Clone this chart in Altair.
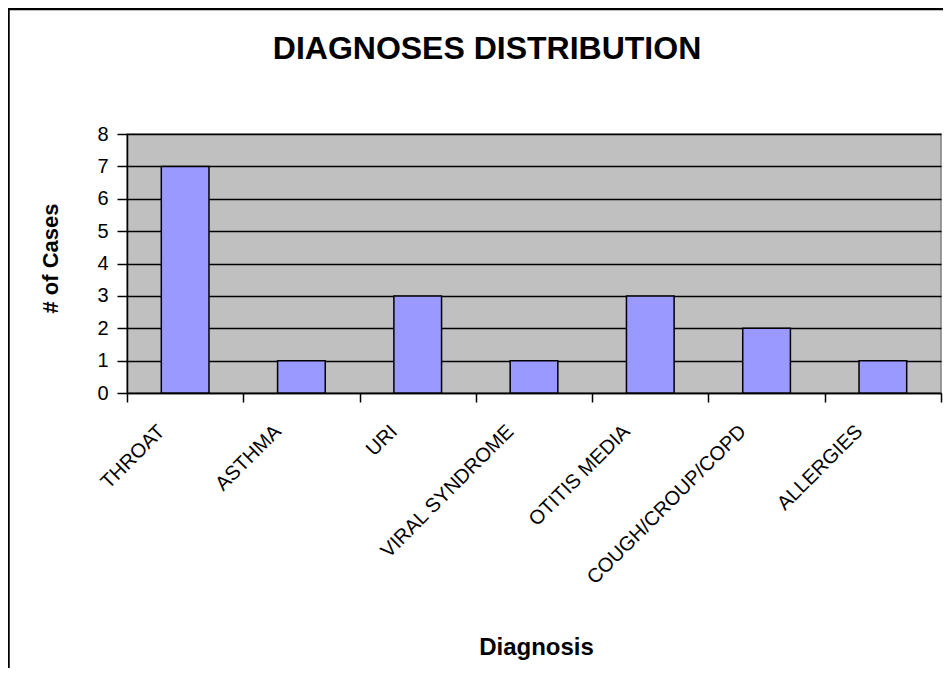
import altair as alt
import pandas as pd

categories = ["THROAT", "ASTHMA", "URI", "VIRAL SYNDROME", "OTITIS MEDIA", "COUGH/CROUP/COPD", "ALLERGIES"]
cases = [7, 1, 3, 1, 3, 2, 1]
y_ticks = [0, 1, 2, 3, 4, 5, 6, 7, 8]

df = pd.DataFrame({"Diagnosis": categories, "Cases": cases})

FONT = "Liberation Sans"
W, H = 814, 259

bars = alt.Chart(df).mark_bar(
    width=alt.RelativeBandSize(0.41), fill="#9999FF", stroke="black", strokeWidth=1.5
).encode(
    x=alt.X(
        "Diagnosis:N", sort=categories,
        scale=alt.Scale(paddingInner=0, paddingOuter=0),
        axis=alt.Axis(
            title="Diagnosis", labelAngle=-45, labelAlign="right", labelBaseline="middle",
            labelFont=FONT, labelFontSize=20, labelColor="black", labelPadding=26, labelOffset=-24,
            labelLimit=0, labelOverlap=False,
            tickBand="extent", tickSize=9, tickColor="black", tickWidth=1.5,
            domainColor="black", domainWidth=1.5, grid=False,
            titleFont=FONT, titleFontSize=24, titleFontWeight="bold", titleColor="black",
            titleX=409, titleY=261, titleBaseline="alphabetic", titleAlign="center",
        ),
    ),
    y=alt.Y(
        "Cases:Q", scale=alt.Scale(domain=[0, 8], nice=False),
        axis=alt.Axis(
            title="# of Cases", values=y_ticks, format="d",
            labelFont=FONT, labelFontSize=20, labelColor="black", labelPadding=9,
            tickSize=10, tickColor="black", tickWidth=1.5,
            domainColor="black", domainWidth=1.5,
            grid=True, gridColor="black", gridWidth=1.3,
            titleFont=FONT, titleFontSize=22, titleFontWeight="bold", titleColor="black",
            titleX=-77, titleY=124, titleBaseline="middle", titleAlign="center", titleAngle=-90,
        ),
    ),
)

frame = alt.Chart(pd.DataFrame({"f": [0]})).mark_rect(
    fill="transparent", stroke="black", strokeWidth=2.5
).encode(
    x=alt.value(-118.5), x2=alt.value(1200), y=alt.value(-125), y2=alt.value(900)
)

chart = alt.layer(bars, frame).properties(
    width=W, height=H,
    title=alt.TitleParams(
        "DIAGNOSES DISTRIBUTION", font=FONT, fontSize=32, fontWeight="bold", color="black",
        anchor="middle", frame="group", dx=-47, offset=-83, baseline="alphabetic",
    ),
    autosize=alt.AutoSizeParams(type="none"),
    padding={"left": 119, "top": 126, "right": 2, "bottom": 275},
    background="white",
).configure_view(
    fill="#C0C0C0", stroke="#808080", strokeWidth=1.5
)

chart.save("out.html", embed_options={"renderer": "svg", "actions": False})
